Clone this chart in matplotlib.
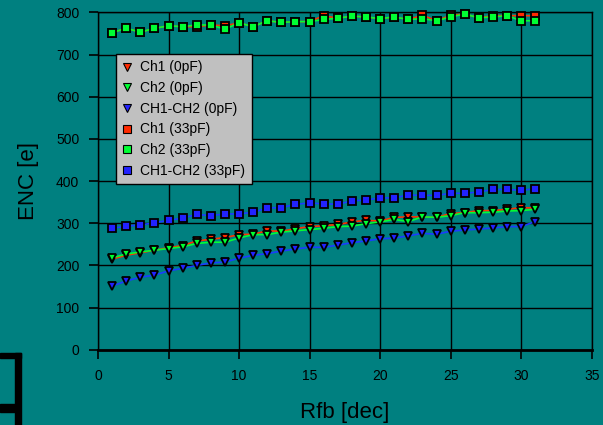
import numpy as np
import matplotlib.pyplot as plt
from matplotlib.lines import Line2D
from matplotlib.patches import Rectangle

plt.rcParams['font.family'] = ['Liberation Sans', 'DejaVu Sans']

rfb = np.arange(1, 32)

ch1_0pf = [215, 224, 230, 236, 242, 247, 258, 262, 266, 273, 274, 282, 281, 287, 292,
           294, 297, 303, 307, 305, 314, 315, 315, 314, 323, 325, 330, 330, 333, 337, 336]
ch2_0pf = [218, 227, 232, 236, 240, 244, 252, 255, 255, 265, 273, 273, 279, 282, 285,
           288, 292, 293, 299, 303, 309, 304, 315, 314, 318, 325, 325, 326, 329, 330, 333]
diff_0pf = [151, 163, 172, 177, 187, 193, 200, 206, 208, 217, 224, 228, 234, 239, 243,
            243, 248, 254, 258, 263, 265, 270, 276, 274, 281, 284, 286, 289, 292, 292, 304]
ch1_33pf = [752, 762, 753, 762, 768, 766, 766, 770, 768, 775, 766, 780, 776, 778, 778,
            792, 786, 791, 789, 785, 789, 783, 793, 780, 793, 796, 787, 792, 792, 792, 792]
ch2_33pf = [752, 762, 753, 762, 768, 766, 770, 770, 760, 775, 766, 780, 776, 778, 778,
            783, 786, 791, 789, 785, 789, 783, 785, 780, 789, 796, 787, 789, 792, 780, 780]
diff_33pf = [288, 293, 296, 301, 307, 312, 321, 318, 322, 322, 326, 336, 337, 345, 348,
             346, 345, 353, 355, 360, 360, 367, 366, 366, 371, 371, 374, 380, 380, 378, 382]

labels = ['Ch1 (0pF)', 'Ch2 (0pF)', 'CH1-CH2 (0pF)',
          'Ch1 (33pF)', 'Ch2 (33pF)', 'CH1-CH2 (33pF)']

red_line, green_line, blue_line = '#ff3300', '#00ff33', '#1a3cff'
red_fill, green_fill, blue_fill = '#ff2a00', '#00ff33', '#2222ff'
teal = '#008080'

fig = plt.figure(figsize=(6.03, 4.25), dpi=100, facecolor=teal)
ax = fig.add_axes([0.1625, 0.177, 0.8188, 0.794])
ax.set_facecolor(teal)

series = [
    (ch1_0pf, 'v', red_line, red_fill),
    (ch2_0pf, 'v', green_line, green_fill),
    (diff_0pf, 'v', blue_line, blue_fill),
    (ch1_33pf, 's', red_line, red_fill),
    (ch2_33pf, 's', green_line, green_fill),
    (diff_33pf, 's', blue_line, blue_fill),
]
handles = []
for (vals, mk, lc, fc), lab in zip(series, labels):
    ms = 6 if mk == 'v' else 5.5
    ax.plot(rfb, vals, color=lc, lw=1.2, marker=mk, ms=ms,
            mfc=fc, mec='black', mew=1.3, zorder=3, clip_on=False)
    handles.append(Line2D([], [], ls='none', marker=mk, ms=5.5,
                          mfc=fc, mec='black', mew=0.8, label=lab))

ax.set_xlim(0, 35)
ax.set_ylim(0, 800)
ax.set_xticks(range(0, 36, 5))
ax.set_yticks(range(0, 801, 100))
ax.grid(True, color='black', lw=1.0)
ax.set_axisbelow(True)
for s in ax.spines.values():
    s.set_color('black')
    s.set_linewidth(1.0)
ax.spines['bottom'].set_linewidth(2.0)
ax.tick_params(direction='out', length=6.5, width=1.2, colors='black',
               labelsize=10, pad=7)

ax.set_xlabel('Rfb [dec]', fontsize=16, labelpad=14)
ax.set_ylabel('ENC [e]', fontsize=16, labelpad=12)

leg = ax.legend(handles=handles, loc='upper left', bbox_to_anchor=(0.0365, 0.876),
                borderaxespad=0, fontsize=10, handlelength=0.7, handletextpad=0.6,
                labelspacing=0.48, borderpad=0.45, fancybox=False, framealpha=1)
leg.get_frame().set_facecolor('#c0c0c0')
leg.get_frame().set_edgecolor('black')
leg.get_frame().set_linewidth(1.0)

# thick black frame fragment in the lower left corner
W, H = 603.0, 425.0
for x0, y0, x1, y1 in [(0, 353, 21, 358), (15, 353, 21, 425), (0, 404, 15, 412)]:
    fig.patches.append(Rectangle((x0 / W, 1 - y1 / H), (x1 - x0) / W, (y1 - y0) / H,
                                 transform=fig.transFigure, color='black', zorder=5))

fig.savefig('out.png', dpi=100, facecolor=teal)
